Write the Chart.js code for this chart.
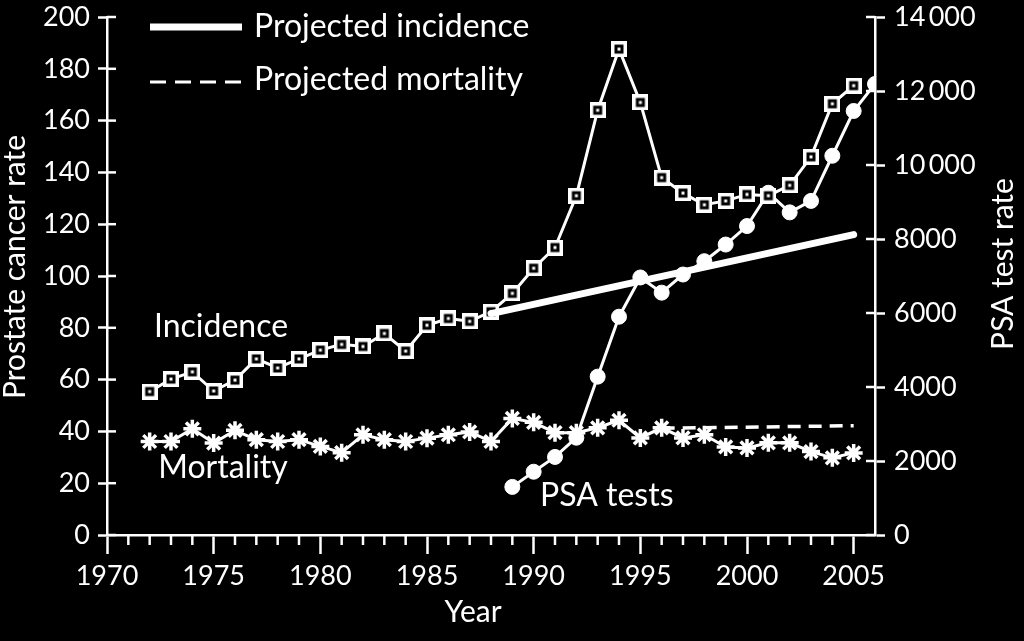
<!DOCTYPE html>
<html><head><meta charset="utf-8">
<script src="https://cdn.jsdelivr.net/npm/chart.js@4/dist/chart.umd.min.js"></script>
<style>html,body{margin:0;padding:0;background:#000;overflow:hidden}</style>
</head><body>
<canvas id="c" width="1024" height="641" style="width:1024px;height:641px;display:block"></canvas>
<script>
// ---- data ----
const incidenceYears = [1972,1973,1974,1975,1976,1977,1978,1979,1980,1981,1982,1983,1984,1985,1986,1987,1988,1989,1990,1991,1992,1993,1994,1995,1996,1997,1998,1999,2000,2001,2002,2003,2004,2005];
const incidenceRates = [55.4,60.2,63.0,55.6,59.8,68.0,64.5,68.0,71.4,73.6,72.8,77.8,71.0,81.0,83.6,82.5,86.2,93.3,103,111,131,164,187.6,167,138,132,127.5,129,131.5,131,135,146,166.5,173.5];
const mortalityYears = [1972,1973,1974,1975,1976,1977,1978,1979,1980,1981,1982,1983,1984,1985,1986,1987,1988,1989,1990,1991,1992,1993,1994,1995,1996,1997,1998,1999,2000,2001,2002,2003,2004,2005];
const mortalityRates = [36.1,36.1,41.0,35.5,40.4,36.8,36.1,36.8,34.2,31.8,38.7,36.8,36.1,37.4,38.7,39.8,36.1,45.0,43.5,39.5,39.5,41.4,44.3,37.5,41.4,37.5,38.7,34.0,33.6,35.6,35.6,32.2,29.8,31.7];
const psaYears = [1989,1990,1991,1992,1993,1994,1995,1996,1997,1998,1999,2000,2001,2002,2003,2004,2005,2006];
const psaRates = [1300,1710,2110,2630,4280,5900,6960,6550,7040,7400,7850,8350,9250,8720,9030,10250,11460,12190];
const projIncidenceYears = [1988,2005];
const projIncidenceRates = [85.5,116];
const projMortalityYears = [1996,2005];
const projMortalityRates = [41.2,42.2];
const xTickYears = [1970,1975,1980,1985,1990,1995,2000,2005];
const leftAxisTitle = 'Prostate cancer rate';
const rightAxisTitle = 'PSA test rate';
const xAxisTitle = 'Year';
const legendLabels = ['Projected incidence','Projected mortality'];
const seriesLabels = ['Incidence','Mortality','PSA tests'];

const zip = (xs, ys) => xs.map((x, i) => ({x, y: ys[i]}));
const W = '#ffffff';
const FONT = 'Lato, "Open Sans", sans-serif';

// square marker with dot
const sq = document.createElement('canvas');
sq.width = 16; sq.height = 16;
(function(){const g = sq.getContext('2d');
  g.fillStyle = W; g.fillRect(0,0,16,16);
  g.fillStyle = '#000'; g.fillRect(3.5,3.5,9,9);
  g.fillStyle = W; g.fillRect(6.5,6.5,3,3);})();

const annotate = {
  id: 'annotate',
  afterDraw(chart) {
    const {ctx, chartArea, scales} = chart;
    const x = scales.x, y = scales.y, y2 = scales.y2;
    ctx.save();
    ctx.strokeStyle = W; ctx.lineWidth = 2.5; ctx.lineCap = 'butt';
    // inner halves of y ticks
    y.ticks.forEach(t => { const py = y.getPixelForValue(t.value);
      ctx.beginPath(); ctx.moveTo(chartArea.left, py); ctx.lineTo(chartArea.left + 9, py); ctx.stroke(); });
    y2.ticks.forEach(t => { const py = y2.getPixelForValue(t.value);
      ctx.beginPath(); ctx.moveTo(chartArea.right, py); ctx.lineTo(chartArea.right - 9, py); ctx.stroke(); });
    // minor x ticks
    for (let yr = x.min + 1; yr < x.max; yr++) {
      if (yr % 5 === 0) continue;
      const px = x.getPixelForValue(yr);
      ctx.beginPath(); ctx.moveTo(px, chartArea.bottom); ctx.lineTo(px, chartArea.bottom + 10); ctx.stroke();
    }
    // series labels
    ctx.fillStyle = W; ctx.font = '32px ' + FONT; ctx.textBaseline = 'middle'; ctx.textAlign = 'left';
    ctx.fillText(seriesLabels[0], x.getPixelForValue(1972.2), y.getPixelForValue(80.5));
    ctx.fillText(seriesLabels[1], x.getPixelForValue(1972.4), y.getPixelForValue(26));
    ctx.fillText(seriesLabels[2], x.getPixelForValue(1990.3), y.getPixelForValue(15));
    // legend
    const lx = chartArea.left + 43, lx2 = chartArea.left + 135;
    const ly1 = chartArea.top + 10, ly2 = chartArea.top + 65;
    ctx.lineWidth = 7;
    ctx.beginPath(); ctx.moveTo(lx, ly1); ctx.lineTo(lx2, ly1); ctx.stroke();
    ctx.lineWidth = 3; ctx.setLineDash([16, 9]);
    ctx.beginPath(); ctx.moveTo(lx, ly2); ctx.lineTo(lx2, ly2); ctx.stroke();
    ctx.setLineDash([]);
    ctx.fillText(legendLabels[0], lx2 + 12, ly1);
    ctx.fillText(legendLabels[1], lx2 + 12, ly2 - 2);
    // axis titles
    ctx.font = '30px ' + FONT; ctx.textAlign = 'center';
    ctx.fillText(xAxisTitle, 473, 612);
    ctx.save();
    ctx.translate(15, 267); ctx.rotate(-Math.PI / 2);
    ctx.fillText(leftAxisTitle, 0, 0);
    ctx.restore();
    ctx.translate(1003, 264); ctx.rotate(-Math.PI / 2);
    ctx.fillText(rightAxisTitle, 0, 0);
    ctx.restore();
  }
};

const tickFont = {family: FONT, size: 27};
new Chart(document.getElementById('c'), {
  type: 'line',
  data: {
    datasets: [
      {label: 'Projected incidence', data: zip(projIncidenceYears, projIncidenceRates), yAxisID: 'y',
        borderColor: W, borderWidth: 7, pointRadius: 0, borderCapStyle: 'round'},
      {label: 'Projected mortality', data: zip(projMortalityYears, projMortalityRates), yAxisID: 'y',
        borderColor: W, borderWidth: 3.5, borderDash: [13, 8], pointRadius: 0},
      {label: 'Incidence', data: zip(incidenceYears, incidenceRates), yAxisID: 'y',
        borderColor: W, borderWidth: 3, pointStyle: sq, pointRadius: 8},
      {label: 'Mortality', data: zip(mortalityYears, mortalityRates), yAxisID: 'y',
        borderColor: W, borderWidth: 3, pointStyle: 'star', pointRadius: 9, pointBorderWidth: 3.5,
        pointBorderColor: W, pointBackgroundColor: W},
      {label: 'PSA tests', data: zip(psaYears, psaRates), yAxisID: 'y2',
        borderColor: W, borderWidth: 3, pointStyle: 'circle', pointRadius: 7.5,
        pointBackgroundColor: W, pointBorderColor: W, pointBorderWidth: 1,
        clip: {left: false, top: false, right: 1, bottom: false}}
    ]
  },
  options: {
    responsive: false, animation: false, devicePixelRatio: 1,
    layout: {padding: {top: 17, left: 0, right: 0, bottom: 0}},
    plugins: {legend: {display: false}, tooltip: {enabled: false}},
    elements: {line: {tension: 0}},
    scales: {
      x: {type: 'linear', min: 1970, max: 2006,
        border: {color: W, width: 2.5},
        grid: {drawOnChartArea: false, tickLength: 19, tickWidth: 2.5, tickColor: W},
        ticks: {autoSkip: false, maxRotation: 0, color: W, font: tickFont, padding: 6,
          callback: v => String(v)},
        afterBuildTicks: s => { s.ticks = xTickYears.map(v => ({value: v})); },
        afterFit: s => { s.height = 106; s.paddingLeft = 0; s.paddingRight = 0; }
      },
      y: {position: 'left', min: 0, max: 200,
        border: {color: W, width: 2.5},
        grid: {drawOnChartArea: false, tickLength: 9, tickWidth: 2.5, tickColor: W},
        ticks: {stepSize: 20, color: W, font: tickFont, padding: 8},
        afterFit: s => { s.width = 107; s.paddingTop = 0; s.paddingBottom = 0; }
      },
      y2: {position: 'right', min: 0, max: 14000,
        border: {color: W, width: 2.5},
        grid: {drawOnChartArea: false, tickLength: 10, tickWidth: 2.5, tickColor: W},
        ticks: {stepSize: 2000, color: W, font: tickFont, padding: 9,
          callback: v => v >= 10000 ? String(v).slice(0, 2) + '\u2009' + String(v).slice(2) : String(v)},
        afterFit: s => { s.width = 149; s.paddingTop = 0; s.paddingBottom = 0; }
      }
    }
  },
  plugins: [annotate]
});
</script>
</body></html>
